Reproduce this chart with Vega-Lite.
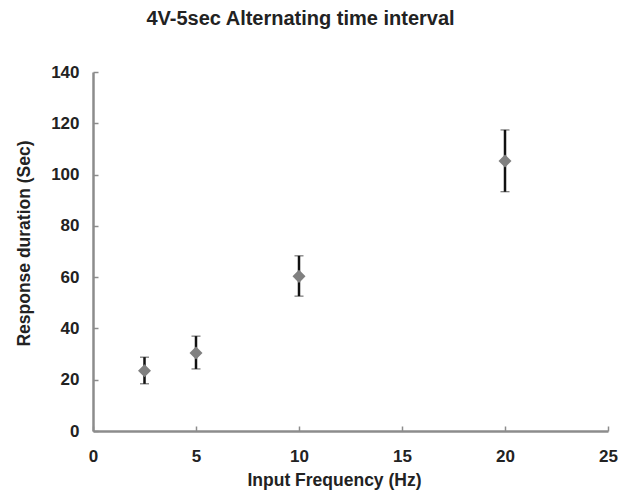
{
  "$schema": "https://vega.github.io/schema/vega-lite/v6.json",
  "autosize": {"type": "none"},
  "width": 515,
  "height": 359,
  "padding": {"left": 93, "top": 72, "right": 17, "bottom": 61},
  "background": "white",
  "title": {
    "text": "4V-5sec Alternating time interval",
    "font": "Liberation Sans",
    "fontSize": 20,
    "fontWeight": "bold",
    "color": "#222222",
    "anchor": "middle",
    "frame": "group",
    "dx": -50,
    "offset": 34
  },
  "data": {
    "values": [
      {"freq": 2.5, "mean": 23.5, "lo": 18.4, "hi": 28.8},
      {"freq": 5, "mean": 30.4, "lo": 24.2, "hi": 37.0},
      {"freq": 10, "mean": 60.3, "lo": 52.6, "hi": 68.3},
      {"freq": 20, "mean": 105.3, "lo": 93.3, "hi": 117.4}
    ]
  },
  "config": {
    "view": {"stroke": null},
    "axis": {
      "grid": false,
      "domainColor": "#8c8c8c",
      "domainWidth": 2.5,
      "tickColor": "#8c8c8c",
      "tickWidth": 1.5,
      "tickSize": -5,
      "labelFlush": false,
      "labelFont": "Liberation Sans",
      "labelFontSize": 17,
      "labelFontWeight": "bold",
      "labelColor": "#222222",
      "titleFont": "Liberation Sans",
      "titleFontSize": 17.5,
      "titleFontWeight": "bold",
      "titleColor": "#222222"
    }
  },
  "layer": [
    {
      "mark": {"type": "errorbar", "ticks": {"size": 9, "color": "#111111", "strokeWidth": 2.5}, "rule": {"color": "#111111", "strokeWidth": 2.5}},
      "encoding": {
        "x": {"field": "freq", "type": "quantitative", "scale": {"domain": [0, 25], "nice": false},
          "axis": {"title": "Input Frequency (Hz)", "values": [0, 5, 10, 15, 20, 25], "labelPadding": 22, "titleY": 40, "titleX": 241, "titleAnchor": null}},
        "y": {"field": "lo", "type": "quantitative", "scale": {"domain": [0, 140], "nice": false},
          "axis": {"title": "Response duration (Sec)", "values": [0, 20, 40, 60, 80, 100, 120, 140], "labelPadding": 19, "titleX": -60, "titleY": 171}},
        "y2": {"field": "hi"}
      }
    },
    {
      "mark": {"type": "point", "shape": "diamond", "filled": true, "color": "#808080", "opacity": 1, "size": 170},
      "encoding": {
        "x": {"field": "freq", "type": "quantitative"},
        "y": {"field": "mean", "type": "quantitative"}
      }
    }
  ]
}
